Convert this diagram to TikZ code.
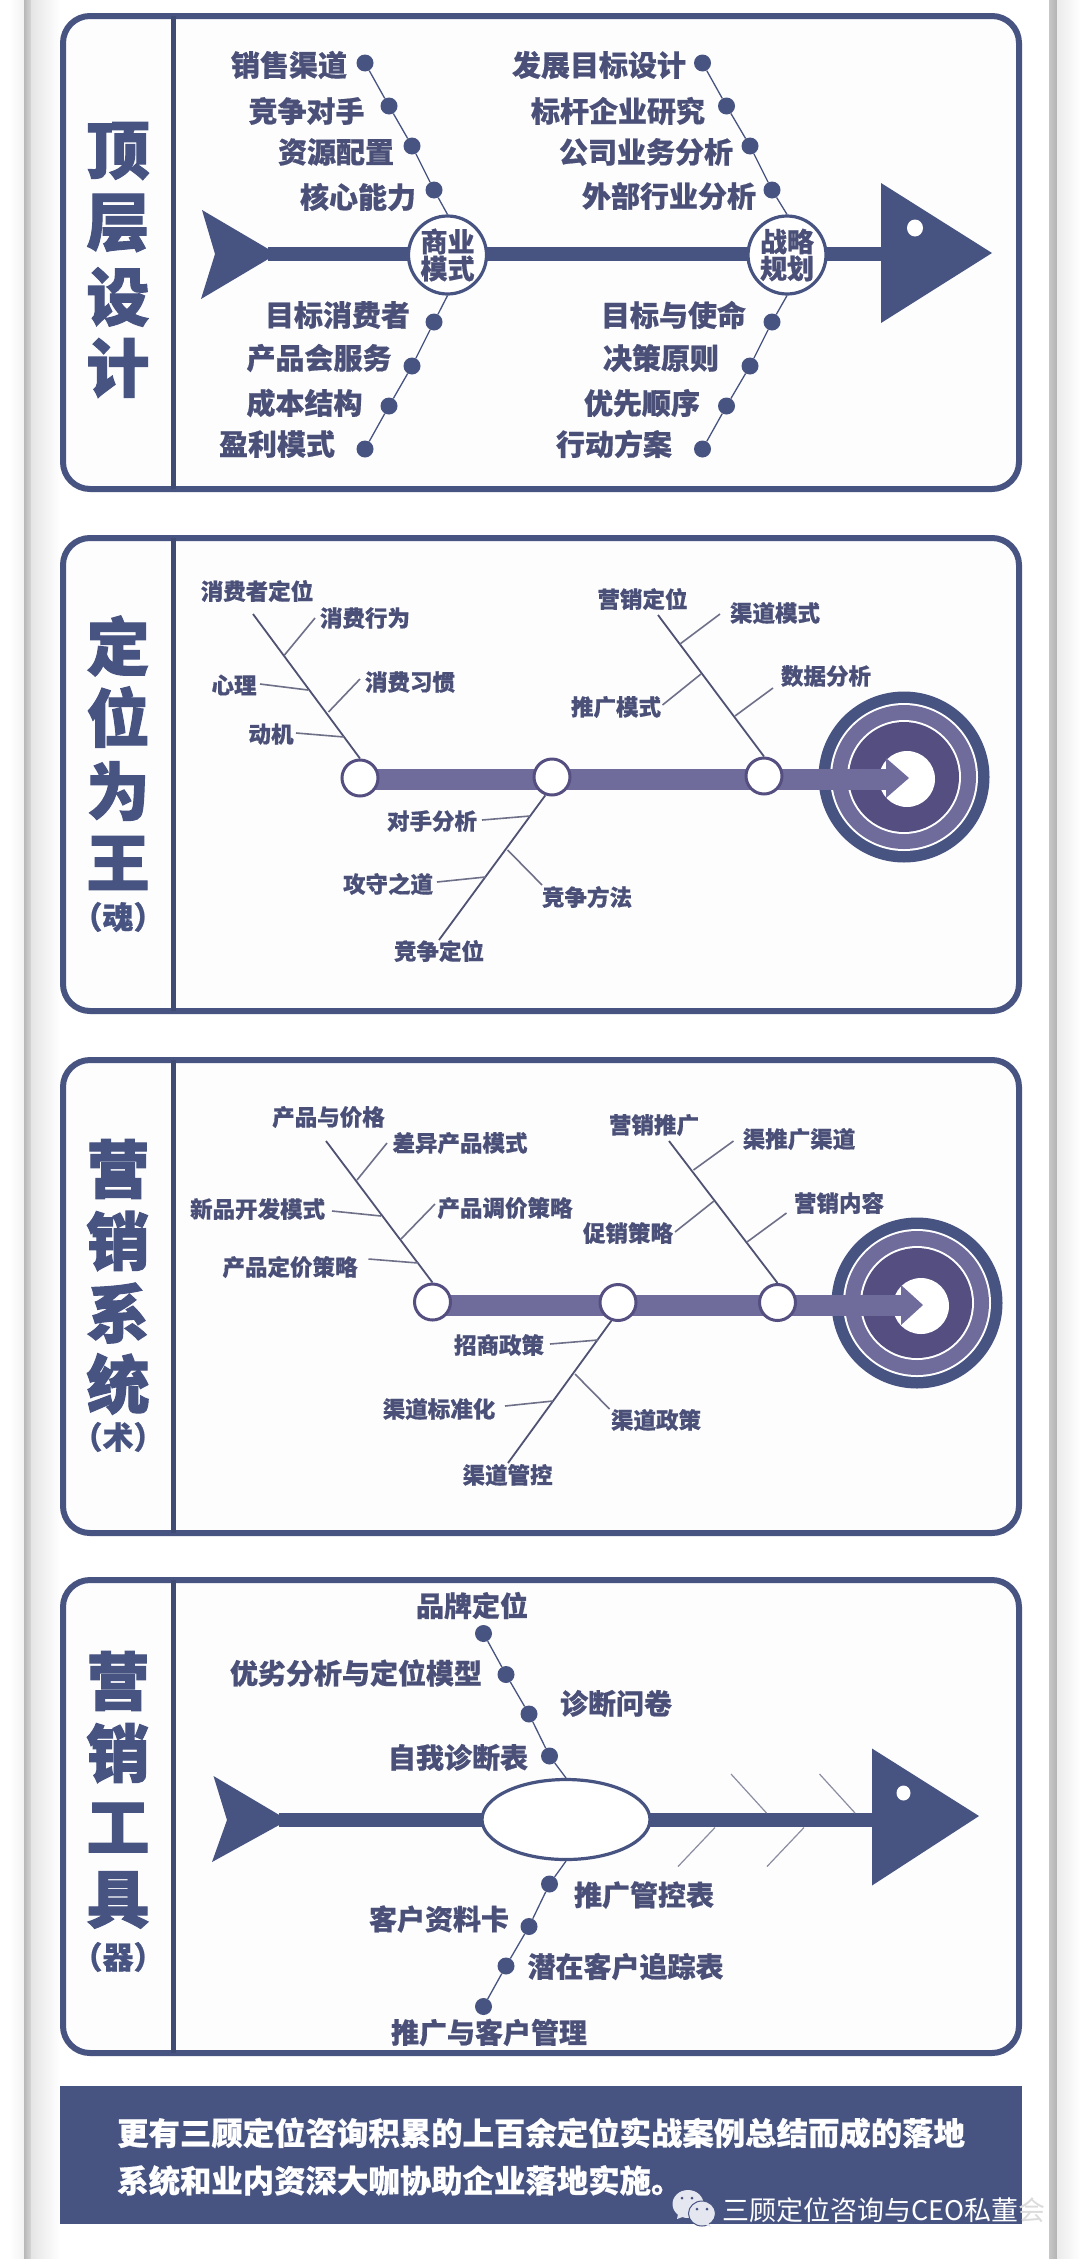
\documentclass[tikz,border=0pt]{standalone}
\usepackage{fontspec}
\usetikzlibrary{shapes.geometric}
\newfontfamily\cjk{Noto Sans CJK SC}
\newfontfamily\cjkk{Noto Sans CJK SC Black}[FakeBold=0.6]
\newfontfamily\cjkt{Noto Sans CJK SC Black}[FakeBold=1.6]
\definecolor{navy}{HTML}{475381}
\definecolor{ink}{HTML}{4A5078}
\definecolor{spine}{HTML}{6F6C9C}
\definecolor{deep}{HTML}{544F80}
\definecolor{bone}{HTML}{4F5272}
\definecolor{twigc}{HTML}{6E7088}
\definecolor{paper}{HTML}{FDFDFE}
\definecolor{bubble}{HTML}{E4E6F0}
\newcommand{\fsz}[1]{\fontsize{#1}{#1}\selectfont}
\tikzset{
  panel/.style={draw=navy,line width=6pt,fill=paper,rounded corners=27pt},
  divider/.style={draw=navy!90!black,line width=4.5pt},
  title/.style={text=navy,inner sep=0pt,font=\cjkt\fsz{63}},
  subtitle/.style={text=navy,inner sep=0pt,font=\cjkk\fsz{31}},
  lab/.style={text=ink,inner sep=0pt,font=\cjkk\fsz{29}},
  labs/.style={text=ink,inner sep=0pt,font=\cjkk\fsz{22.5}},
  labm/.style={text=ink,inner sep=0pt,font=\cjkk\fsz{28}},
  dotn/.style={circle,fill=navy,inner sep=0pt,minimum size=17pt},
  hub/.style={circle,draw=navy,line width=3.2pt,fill=white,inner sep=0pt,minimum size=78pt,align=center,text=ink,font=\cjkk\fsz{27}},
  joint/.style={circle,draw=deep,line width=3pt,fill=white,inner sep=0pt,minimum size=36pt},
  thin/.style={draw=navy,line width=1.3pt},
  mainbone/.style={draw=bone,line width=1.8pt},
  twig/.style={draw=twigc,line width=1.6pt},
  pale/.style={draw=twigc!80,line width=1.2pt},
  spinebar/.style={draw=navy,line width=14pt},
  thick/.style={draw=spine,line width=21pt},
}
\newcommand{\twigl}[4][twig]{\coordinate (#2a) at (#3); \coordinate (#2b) at (#4); \draw[#1] (#2a) -- (#2b);}
\newcommand{\target}[4]{%
  \fill[navy] (#1,#2) circle (85.5pt);
  \fill[white] (#1,#2) circle (74pt);
  \fill[spine] (#1,#2) circle (72pt);
  \fill[white] (#1,#2) circle (57pt);
  \fill[deep] (#1,#2) circle (55pt);
  \fill[white] (#3,#4) circle (28pt);
}
\begin{document}
\begin{tikzpicture}[x=1pt,y=-1pt]
\useasboundingbox (0,0) rectangle (1080,2259);
\fill[white] (0,0) rectangle (1080,2259);
% page edges
\shade[left color=white,right color=black!5] (10,0) rectangle (24,2259);
\shade[left color=black!28,right color=black!16] (24,0) rectangle (31,2259);
\shade[left color=violet!5!black!10,right color=white] (31,0) rectangle (60,2259);
\shade[left color=black!22,right color=black!30] (1049,0) rectangle (1057,2259);
\shade[left color=violet!5!black!8,right color=white] (1057,0) rectangle (1080,2259);
% panels
\foreach \t/\b/\n in {16/489/a,538/1011/b,1060/1533/c,1580/2053/d}{
  \draw[panel] (63,\t) rectangle (1019,\b);
  \coordinate (div\n t) at (173.5,\t);
  \coordinate (div\n b) at (173.5,\b);
  \draw[divider] (div\n t) -- (div\n b);
}
% ---------- panel 1
\node[title] (ta1) at (118,151) {顶};
\node[title] (ta2) at (118,223) {层};
\node[title] (ta3) at (118,297) {设};
\node[title] (ta4) at (118,368) {计};
\coordinate (tail1) at (268,254);
\coordinate (head1) at (885,254);
\draw[spinebar] (tail1) -- (head1);
\fill[navy] (202,210) -- (270,250) -- (270,258) -- (201,299) -- (215,254) -- cycle;
\fill[navy] (881,183) -- (992,253) -- (881,323) -- cycle;
\fill[white] (915,228) ellipse (8pt and 8.5pt);
\node[hub] (h1) at (447.5,255) {商业\\模式};
\node[hub] (h2) at (787,255) {战略\\规划};
\foreach \n/\x/\y in {a1/365/63,a2/389/106,a3/412/146,a4/434/190,a5/434/322,a6/412/366,a7/389/406,a8/365/449,
  b1/702.5/63,b2/726.5/106,b3/750/146,b4/772/190,b5/772/322,b6/750/366,b7/726.5/406,b8/702.5/449}
  \node[dotn] (\n) at (\x,\y) {};
\draw[thin] (a1) -- (a2) -- (a3) -- (a4) -- (h1.north);
\draw[thin] (h1.south) -- (a5) -- (a6) -- (a7) -- (a8);
\draw[thin] (b1) -- (b2) -- (b3) -- (b4) -- (h2.north);
\draw[thin] (h2.south) -- (b5) -- (b6) -- (b7) -- (b8);
\foreach \n/\x/\y/\s in {
  l1/289/65/销售渠道,l2/306.5/111/竞争对手,l3/336/152/资源配置,l4/358/197/核心能力,
  l5/337.5/315/目标消费者,l6/319/358/产品会服务,l7/304.5/403/成本结构,l8/277/444/盈利模式,
  l9/599/65/发展目标设计,l10/618/111/标杆企业研究,l11/646/152/公司业务分析,l12/669/196/外部行业分析,
  l13/673.5/315/目标与使命,l14/661/358/决策原则,l15/642/403/优先顺序,l16/614/444/行动方案}
  \node[lab] (\n) at (\x,\y) {\s};
% ---------- panel 2
\node[title] (tb1) at (118,646) {定};
\node[title] (tb2) at (118,717) {位};
\node[title] (tb3) at (118,791) {为};
\node[title] (tb4) at (118,863) {王};
\node[subtitle] (tb5) at (118,917) {（魂）};
\target{904}{777}{907}{779}
\coordinate (s2a) at (360,779);
\coordinate (s2b) at (888,779);
\draw[thick] (s2a) -- (s2b);
\fill[spine] (886,758) -- (909,778) -- (886,798) -- cycle;
\node[joint] (j21) at (360,778) {};
\node[joint] (j22) at (552,777) {};
\node[joint] (j23) at (764,776) {};
\coordinate (m21) at (253,614);
\coordinate (m22) at (658,615);
\coordinate (m23) at (439,940);
\draw[mainbone] (m21) -- (j21.north);
\draw[mainbone] (m22) -- (j23.north);
\draw[mainbone] (m23) -- (j22.250);
\twigl{tw21}{315,618}{284.5,655}
\twigl{tw22}{260,684}{308,690}
\twigl{tw23}{360,679}{328.5,712}
\twigl{tw24}{296,733}{344,737}
\twigl{tw25}{720,614}{680,644}
\twigl{tw26}{662.5,705}{701,674}
\twigl{tw27}{773,688}{735,716}
\twigl{tw28}{482,820}{530,816}
\twigl{tw29}{437,882}{485.5,877}
\twigl{tw210}{507.6,850}{542,885}
\foreach \n/\x/\y/\s in {
  p1/257/591/消费者定位,p2/365/618/消费行为,p3/234/685/心理,p4/410/682/消费习惯,p5/271/734/动机,
  p6/642.5/599/营销定位,p7/775/613/渠道模式,p8/616/707/推广模式,p9/826/676/数据分析,
  p10/432/821/对手分析,p11/388/884/攻守之道,p12/587/897/竞争方法,p13/439/951/竞争定位}
  \node[labs] (\n) at (\x,\y) {\s};
% ---------- panel 3
\node[title] (tc1) at (118,1169) {营};
\node[title] (tc2) at (118,1241) {销};
\node[title] (tc3) at (118,1313) {系};
\node[title] (tc4) at (118,1384) {统};
\node[subtitle] (tc5) at (118,1437) {（术）};
\target{917}{1303}{921}{1306}
\coordinate (s3a) at (432.5,1305.5);
\coordinate (s3b) at (903,1305.5);
\draw[thick] (s3a) -- (s3b);
\fill[spine] (901,1285) -- (923,1305) -- (901,1325) -- cycle;
\node[joint] (j31) at (432.5,1302) {};
\node[joint] (j32) at (618,1302.5) {};
\node[joint] (j33) at (777.5,1302.5) {};
\coordinate (m31) at (326,1141);
\coordinate (m32) at (669,1141);
\coordinate (m33) at (508,1463);
\draw[mainbone] (m31) -- (j31.north);
\draw[mainbone] (m32) -- (j33.north);
\draw[mainbone] (m33) -- (j32.250);
\twigl{tw31}{387,1143}{357,1180}
\twigl{tw32}{332,1211}{381,1216}
\twigl{tw33}{435,1204}{401,1239}
\twigl{tw34}{368.5,1259}{418,1263}
\twigl{tw35}{733.5,1141}{693.5,1170}
\twigl{tw36}{675,1232}{714,1201}
\twigl{tw37}{786.5,1213}{747,1242}
\twigl{tw38}{550,1344}{598,1340}
\twigl{tw39}{505,1406}{553,1401}
\twigl{tw310}{575,1374}{609.5,1409}
\foreach \n/\x/\y/\s in {
  q1/328.5/1117/产品与价格,q2/460/1143/差异产品模式,q3/257.6/1209/新品开发模式,q4/505/1208/产品调价策略,q5/290/1267/产品定价策略,
  q6/654/1125/营销推广,q7/799/1139/渠推广渠道,q8/628/1233/促销策略,q9/839/1203/营销内容,
  q10/499/1345/招商政策,q11/439/1409/渠道标准化,q12/656/1420/渠道政策,q13/507.6/1475/渠道管控}
  \node[labs] (\n) at (\x,\y) {\s};
% ---------- panel 4
\node[title] (td1) at (118,1681) {营};
\node[title] (td2) at (118,1753) {销};
\node[title] (td3) at (118,1827.5) {工};
\node[title] (td4) at (118,1900) {具};
\node[subtitle] (td5) at (118,1957) {（器）};
\coordinate (tail4) at (279,1820);
\coordinate (head4) at (875,1820);
\draw[spinebar] (tail4) -- (head4);
\fill[navy] (213.5,1776) -- (281,1816) -- (281,1824) -- (212,1862) -- (227,1820) -- cycle;
\fill[navy] (872,1748.5) -- (979,1816) -- (872,1885.5) -- cycle;
\fill[white] (903.5,1793) ellipse (7pt and 7.5pt);
\node[ellipse,draw=navy,line width=3.2pt,fill=white,inner sep=0pt,minimum width=168pt,minimum height=80pt] (h4) at (566,1819.5) {};
\foreach \n/\x/\y in {c1/483.5/1633.5,c2/506/1674.5,c3/529/1714,c4/549.5/1756,c5/549.5/1884,c6/529/1926.5,c7/506/1966,c8/483.5/2006.5}
  \node[dotn] (\n) at (\x,\y) {};
\draw[thin] (c1) -- (c2) -- (c3) -- (c4) -- (h4.north);
\draw[thin] (h4.south) -- (c5) -- (c6) -- (c7) -- (c8);
\twigl[pale]{tw41}{731,1774}{766.5,1813}
\twigl[pale]{tw42}{819.5,1774}{855,1813}
\twigl[pale]{tw43}{715,1827.5}{678,1866.5}
\twigl[pale]{tw44}{804,1827.5}{767,1866.5}
\foreach \n/\x/\y/\s in {
  r1/472/1605.5/品牌定位,r2/356/1673/优劣分析与定位模型,r3/616/1703.5/诊断问卷,r4/458/1757.5/自我诊断表,
  r5/644/1895/推广管控表,r6/439/1919/客户资料卡,r7/625.5/1966.5/潜在客户追踪表,r8/489/2032.5/推广与客户管理}
  \node[labm] (\n) at (\x,\y) {\s};
% ---------- footer
\fill[navy] (60,2086) rectangle (1022,2224);
\node[anchor=west,text=white,inner sep=0pt,font=\cjkk\fsz{31.4}] (f1) at (117,2133) {更有三顾定位咨询积累的上百余定位实战案例总结而成的落地};
\node[anchor=west,text=white,inner sep=0pt,font=\cjkk\fsz{31.4}] (f2) at (117,2180.5) {系统和业内资深大咖协助企业落地实施。};
% wechat mark
\fill[bubble] (688,2204) ellipse (15.5pt and 14pt);
\fill[bubble] (678,2214) -- (677,2219) -- (685,2216) -- cycle;
\fill[bubble,draw=navy,line width=1pt] (702,2213.5) ellipse (13.5pt and 12.5pt);
\fill[bubble] (708,2222) -- (711,2227) -- (703,2224) -- cycle;
\fill[navy] (682,2198) circle (1.5pt) (692,2198) circle (1.5pt) (697,2209) circle (1.5pt) (707,2209) circle (1.5pt);
\node[anchor=west,text=white,inner sep=0pt,font=\cjk\fsz{27}] (wm) at (722,2210) {三顾定位咨询与CEO私董\textcolor{black!14}{会}};
\end{tikzpicture}
\end{document}
